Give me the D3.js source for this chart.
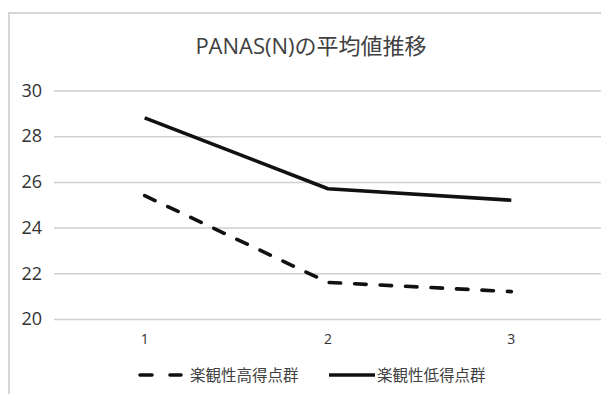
<!DOCTYPE html>
<html>
<head>
<meta charset="utf-8">
<script src="https://cdn.jsdelivr.net/npm/d3@7/dist/d3.min.js"></script>
<style>
  html, body { margin: 0; padding: 0; background: #fff; }
  svg { display: block; }
  text { font-family: "Open Sans", "Noto Sans CJK JP", sans-serif; }
</style>
</head>
<body>
<svg id="chart" width="601" height="394"></svg>
<script>
// Measurement occasions and group means of PANAS(N)
const categories = [1, 2, 3];
const highGroup = [25.4, 21.6, 21.2];   // 楽観性高得点群
const lowGroup = [28.8, 25.7, 25.2];    // 楽観性低得点群
const yTicks = [20, 22, 24, 26, 28, 30];
const seriesNames = ["楽観性高得点群", "楽観性低得点群"];
const titleText = "PANAS(N)の平均値推移";

const svg = d3.select("#chart");
const W = 601, H = 394;

// chart frame (continues past the right and bottom edges)
svg.append("rect")
  .attr("x", 9).attr("y", 13)
  .attr("width", 640).attr("height", 440)
  .attr("fill", "#fff")
  .attr("stroke", "#c9c9c9")
  .attr("stroke-width", 1.5);

const x = d3.scaleBand().domain(categories).range([53, 603]);
const y = d3.scaleLinear().domain([20, 30]).range([319, 90.5]);
const cx = d => x(d) + x.bandwidth() / 2;

// title
svg.append("text")
  .attr("x", 311).attr("y", 54)
  .attr("text-anchor", "middle")
  .attr("font-size", 22)
  .attr("fill", "#404040")
  .text(titleText);

// horizontal gridlines and y labels
const yAxis = d3.axisLeft(y)
  .tickValues(yTicks)
  .tickSize(-(W + 10 - 54))
  .tickPadding(12)
  .tickFormat(d3.format("d"));
const gy = svg.append("g").attr("transform", "translate(54,0)").call(yAxis);
gy.select(".domain").remove();
gy.selectAll(".tick line").attr("stroke", "#cfcfcf").attr("stroke-width", 1.5);
gy.selectAll(".tick text")
  .attr("font-size", 18)
  .attr("fill", "#333")
  .attr("x", -12);

// category labels
const xAxis = d3.axisBottom(x).tickSize(0).tickPadding(0);
const gx = svg.append("g").attr("transform", "translate(0,334)").call(xAxis);
gx.select(".domain").remove();
gx.selectAll(".tick text")
  .attr("font-size", 14)
  .attr("fill", "#333")
  .attr("dy", "0.71em");

const line = d3.line()
  .x((d, i) => cx(categories[i]))
  .y(d => y(d));

// low-score group: solid
svg.append("path")
  .datum(lowGroup)
  .attr("d", line)
  .attr("fill", "none")
  .attr("stroke", "#111")
  .attr("stroke-width", 3.6)
  .attr("stroke-linejoin", "round");

// high-score group: dashed
svg.append("path")
  .datum(highGroup)
  .attr("d", line)
  .attr("fill", "none")
  .attr("stroke", "#111")
  .attr("stroke-width", 3.6)
  .attr("stroke-linecap", "round")
  .attr("stroke-dasharray", "11.5,14");

// legend
const legY = 375;
const leg = svg.append("g");
leg.append("line")
  .attr("x1", 140).attr("x2", 181).attr("y1", legY).attr("y2", legY)
  .attr("stroke", "#111").attr("stroke-width", 3.6)
  .attr("stroke-linecap", "round")
  .attr("stroke-dasharray", "12,18");
leg.append("text")
  .attr("x", 190).attr("y", legY + 6)
  .attr("font-size", 15.5).attr("fill", "#404040")
  .text(seriesNames[0]);
leg.append("line")
  .attr("x1", 329).attr("x2", 375).attr("y1", legY).attr("y2", legY)
  .attr("stroke", "#111").attr("stroke-width", 3.6);
leg.append("text")
  .attr("x", 377).attr("y", legY + 6)
  .attr("font-size", 15.5).attr("fill", "#404040")
  .text(seriesNames[1]);
</script>
</body>
</html>
